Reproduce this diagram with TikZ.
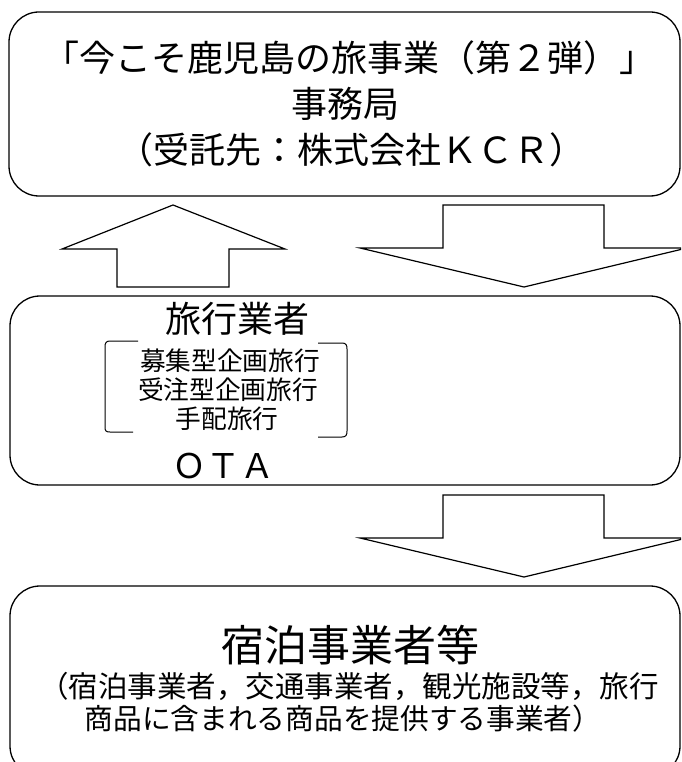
\documentclass[tikz,border=0pt]{standalone}
\usepackage{fontspec}
\newfontfamily\jp{Noto Sans CJK JP}
\begin{document}
\begin{tikzpicture}[x=1pt,y=-1pt,
  box/.style={draw, line width=1.3pt, rounded corners=30pt, minimum width=670pt, inner sep=0pt},
  blockarrow/.style={draw, line width=1.2pt, fill=white, line join=miter},
  txt/.style={inner sep=0pt, anchor=center},
  bracketline/.style={draw, line width=1pt}]
\path[use as bounding box] (0,0) rectangle (681,762);
\clip (0,0) rectangle (681,762);
% boxes
\node[box, minimum width=671pt, minimum height=184pt] (top) at (344.5,104) {};
\node[box, minimum height=189pt] (mid) at (345,390.5) {};
\node[box, minimum height=190pt] (bot) at (345,681) {};
% top box text
\node[txt, font=\jp\fontsize{36}{40}\selectfont] (t1) at (349.5,58) {「今こそ鹿児島の旅事業（第２弾）」};
\node[txt, font=\jp\fontsize{36}{40}\selectfont] (t2) at (345,104) {事務局};
\node[txt, font=\jp\fontsize{36}{40}\selectfont] (t3) at (351,150) {（受託先：株式会社ＫＣＲ）};
% middle box text
\node[txt, font=\jp\fontsize{36}{40}\selectfont] (m1) at (237,319) {旅行業者};
\node[txt, font=\jp\fontsize{25.7}{30}\selectfont] (m2) at (230,361) {募集型企画旅行};
\node[txt, font=\jp\fontsize{25.7}{30}\selectfont] (m3) at (228,390) {受注型企画旅行};
\node[txt, font=\jp\fontsize{25.7}{30}\selectfont] (m4) at (227,419) {手配旅行};
\node[txt, font=\jp\fontsize{34}{40}\selectfont] (m5) at (223,466) {ＯＴＡ};
% brackets
\draw[bracketline] (138,341) -- (110,341) .. controls (106,341) and (105,343) .. (105,347) -- (105,427) .. controls (105,431) and (106,432) .. (110,432) -- (133,432);
\draw[bracketline] (318,343) -- (342,343) .. controls (346,343) and (347,345) .. (347,349) -- (347,431) .. controls (347,435) and (346,437) .. (342,437) -- (318,437);
% bottom box text
\node[txt, font=\jp\fontsize{43}{48}\selectfont] (b1) at (350,645) {宿泊事業者等};
\node[txt, font=\jp\fontsize{29.5}{34}\selectfont] (b2) at (349,686) {（宿泊事業者，交通事業者，観光施設等，旅行};
\node[txt, font=\jp\fontsize{28.7}{34}\selectfont] (b3) at (343,719) {商品に含まれる商品を提供する事業者）};
% block arrows
\draw[blockarrow] (173,205) -- (285,249) -- (229,249) -- (229,287) -- (117,287) -- (117,249) -- (62,249) -- cycle;
\draw[blockarrow] (443,205) -- (604,205) -- (604,248) -- (687,248) -- (524,287) -- (360,248) -- (443,248) -- cycle;
\draw[blockarrow] (443,495) -- (604,495) -- (604,538) -- (687,538) -- (524,577) -- (360,538) -- (443,538) -- cycle;
\end{tikzpicture}
\end{document}
